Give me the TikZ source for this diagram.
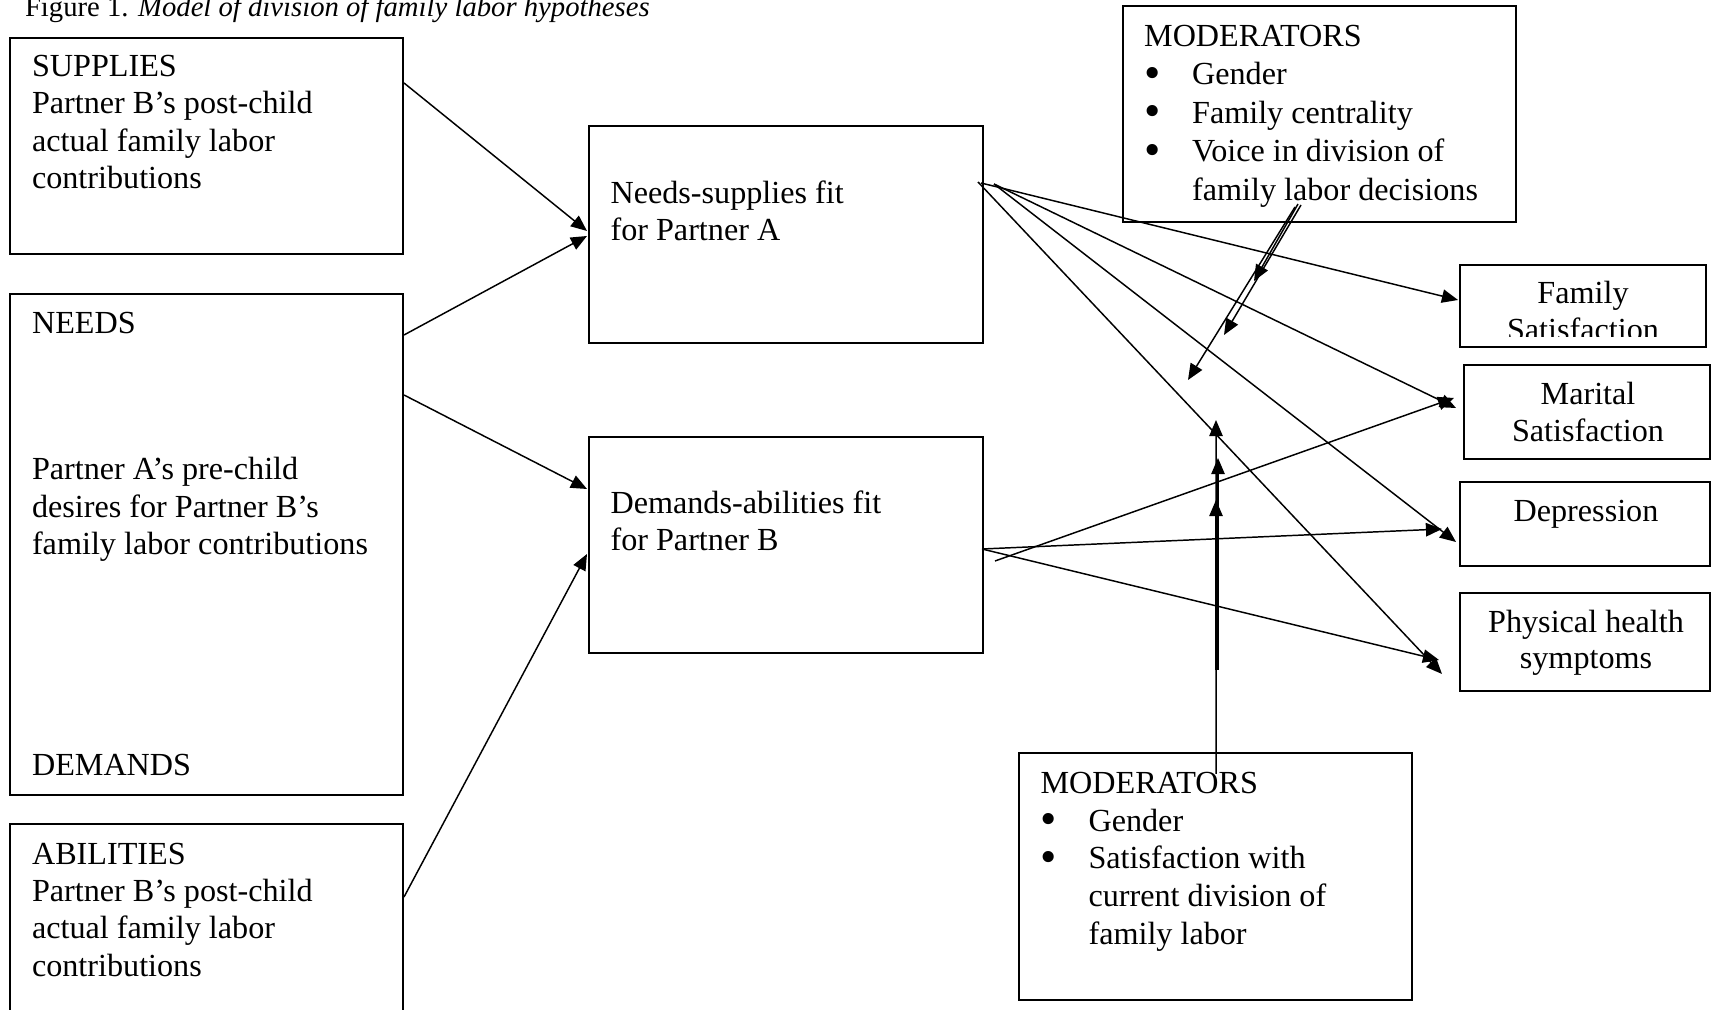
\documentclass[tikz,border=0pt]{standalone}
\usepackage{fontspec}
\usepackage{graphicx}
\setmainfont{Liberation Serif}
\usetikzlibrary{arrows.meta,calc,fit}
\newcommand{\vineta}{\makebox[17.9pt][l]{\raisebox{-1.3pt}{\scalebox{1.45}{\textbullet}}}}
\begin{document}
\begin{tikzpicture}[x=0.373pt, y=-0.373pt,
  caja/.style={draw, line width=0.75pt, inner sep=0pt},
  flecha/.style={line width=0.55pt, -{Triangle[length=6pt,width=5pt]}},
  texto/.style={anchor=base west, inner sep=0pt, align=left, font=\fontsize{12pt}{13.9pt}\selectfont}]
\useasboundingbox (0,0) rectangle (1711,1010);
\clip (0,0) rectangle (1711,1010);
% Titulo
\node[texto, font=\fontsize{10.7pt}{12pt}\selectfont] (titulo) at (24.5,16.5) {Figure 1. \textit{Model of division of family labor hypotheses}};
% Cajas de la izquierda (texto anclado en la ultima linea)
\node[caja, fit={(10,38) (403,254)}] (ofertas) {};
\node[caja, fit={(10,294) (403,795)}] (necesidades) {};
\node[caja, fit={(10,824) (403,1030)}] (habilidades) {};
\node[texto] (ofertas-t) at (31.5,188.5) {SUPPLIES\\Partner B’s post-child\\actual family labor\\contributions};
\node[texto] (necesidades-t) at (31.5,334) {NEEDS};
\node[texto] (deseos-t) at (31.5,554.5) {Partner A’s pre-child\\desires for Partner B’s\\family labor contributions};
\node[texto] (demandas-t) at (31.5,775) {DEMANDS};
\node[texto] (habilidades-t) at (31.5,976) {ABILITIES\\Partner B’s post-child\\actual family labor\\contributions};
% Ajustes
\node[caja, fit={(589,126) (983,343)}] (ajusteA) {};
\node[caja, fit={(589,437) (983,653)}] (ajusteB) {};
\node[texto] (ajusteA-t) at (610,240.5) {Needs-supplies fit\\for Partner A};
\node[texto] (ajusteB-t) at (610,551) {Demands-abilities fit\\for Partner B};
% Resultados
\begin{scope}
\clip (1460,265) rectangle (1706,337);
\node[texto, anchor=base] (famsat-t2) at (1583,341) {Satisfaction};
\end{scope}
\node[caja, fit={(1460,265) (1706,347)}] (famsat) {};
\node[caja, fit={(1464,365) (1710,459)}] (matsat) {};
\node[caja, fit={(1460,482) (1710,566)}] (depre) {};
\node[caja, fit={(1460,593) (1710,691)}] (salud) {};
\node[texto, anchor=base] (famsat-t) at (1583,304) {Family};
\node[texto, anchor=base, align=center] (matsat-t) at (1588,442) {Marital\\Satisfaction};
\node[texto, anchor=base] (depre-t) at (1586,522) {Depression};
\node[texto, anchor=base, align=center, font=\fontsize{12pt}{13.5pt}\selectfont] (salud-t) at (1586,669) {Physical health\\symptoms};
% Moderadores
\node[caja, fit={(1123,6) (1516,222)}] (modsup) {};
\node[caja, fit={(1019,753) (1412,1000)}] (modinf) {};
\node[texto, font=\fontsize{12pt}{14.4pt}\selectfont] (modsup-t) at (1143.6,200.5) {MODERATORS\\\vineta Gender\\\vineta Family centrality\\\vineta Voice in division of\\\hspace*{17.9pt}family labor decisions};
\node[texto, font=\fontsize{12pt}{14pt}\selectfont] (modinf-t) at (1040,944) {MODERATORS\\\vineta Gender\\\vineta Satisfaction with\\\hspace*{17.9pt}current division of\\\hspace*{17.9pt}family labor};
% Flechas hacia los ajustes
\draw[flecha] ($(ofertas.north east)+(0,46)$) -- ($(ajusteA.north west)+(-1,106)$);
\draw[flecha] ($(necesidades.north east)+(0,42)$) -- ($(ajusteA.north west)+(-1,111)$);
\draw[flecha] ($(necesidades.north east)+(0,102)$) -- ($(ajusteB.north west)+(-1,53)$);
\draw[flecha] ($(habilidades.north east)+(0,74)$) -- ($(ajusteB.north west)+(-1,118)$);
% Flechas hacia los resultados
\draw[flecha] ($(ajusteA.north east)+(-3,58)$) -- ($(famsat.north west)+(-1,36)$);
\draw[flecha] ($(ajusteA.north east)+(10,59)$) -- ($(matsat.north west)+(-7,44)$);
\draw[flecha] ($(ajusteA.north east)+(10,59)$) -- ($(depre.north west)+(-3,61)$);
\draw[flecha] ($(ajusteA.north east)+(-6,57)$) -- ($(salud.north west)+(-17,82)$);
\draw[flecha] ($(ajusteB.north east)+(11,125)$) -- ($(matsat.north west)+(-9,34)$);
\draw[flecha] ($(ajusteB.north east)+(-2,113)$) -- ($(depre.north west)+(-17,48)$);
\draw[flecha] ($(ajusteB.north east)+(-2,113)$) -- ($(salud.north west)+(-20,68)$);
% Flechas de los moderadores
\coordinate (m1) at (1254,281);
\coordinate (m2) at (1224,335);
\coordinate (m3) at (1188,380);
\draw[flecha] ($(modsup.south west)+(176,-19)$) -- (m1);
\draw[flecha] ($(modsup.south west)+(179,-18)$) -- (m2);
\draw[flecha] ($(modsup.south west)+(173,-16)$) -- (m3);
\coordinate (n1) at (1216,420);
\coordinate (n2) at (1218,458);
\coordinate (n3) at (1216,500);
\coordinate (n0a) at (1218,670);
\coordinate (n0b) at (1216,670);
\draw[flecha] ($(modinf.north)+(0.5,22)$) -- (n1);
\draw[flecha] (n0a) -- (n2);
\draw[flecha] (n0b) -- (n3);
\end{tikzpicture}
\end{document}
